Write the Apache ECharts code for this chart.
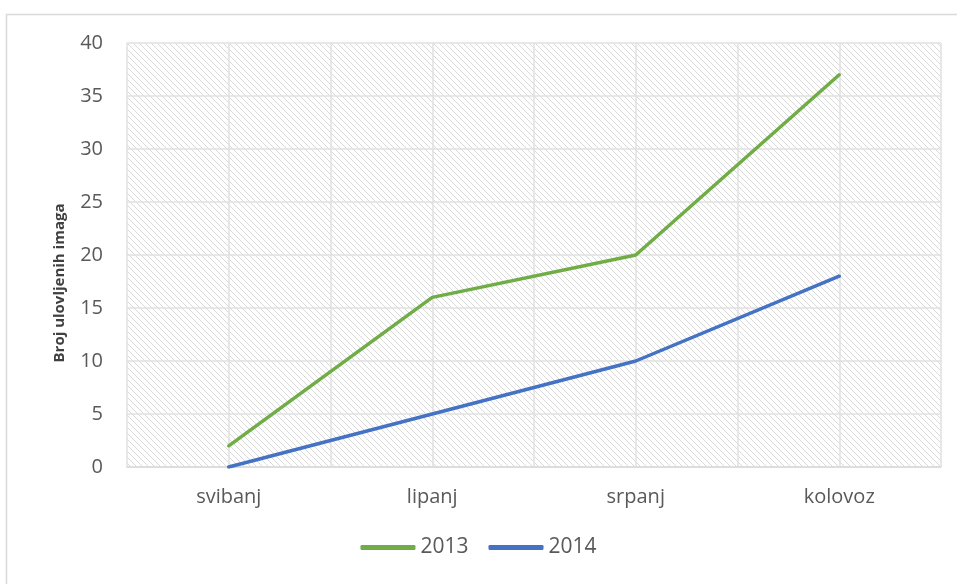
<!DOCTYPE html>
<html>
<head>
<meta charset="utf-8">
<script src="https://cdn.jsdelivr.net/npm/echarts@6/dist/echarts.min.js"></script>
<style>html,body{margin:0;padding:0;background:#fff}#c{width:957px;height:584px}</style>
</head>
<body>
<div id="c"></div>
<script>
var categories = ['svibanj', 'lipanj', 'srpanj', 'kolovoz'];
var series2013 = [2, 16, 20, 37];
var series2014 = [0, 5, 10, 18];
var yTicks = { min: 0, max: 40, interval: 5 };
var yTitle = 'Broj ulovljenih imaga';

var tile = document.createElement('canvas');
var p = 6;
tile.width = p; tile.height = p;
var ctx = tile.getContext('2d');
ctx.fillStyle = '#ffffff';
ctx.fillRect(0, 0, p, p);
ctx.strokeStyle = '#d9d9d9';
ctx.lineWidth = 1;
ctx.beginPath();
ctx.moveTo(-1, -1); ctx.lineTo(p + 1, p + 1);
ctx.moveTo(-1, p - 1); ctx.lineTo(1, p + 1);
ctx.moveTo(p - 1, -1); ctx.lineTo(p + 1, 1);
ctx.stroke();

var chart = echarts.init(document.getElementById('c'));
var font = '"Open Sans", "Noto Sans", sans-serif';
chart.setOption({
  animation: false,
  textStyle: { fontFamily: font },
  graphic: [{
    type: 'rect', left: 4, top: 12, shape: { width: 980, height: 600 },
    style: { fill: 'none', stroke: '#d9d9d9', lineWidth: 1.5 }, z: -10
  }, {
    type: 'text', x: 60, y: 283, rotation: Math.PI / 2,
    style: { text: yTitle, fontSize: 15, fontWeight: 'bold', fill: '#404040',
      fontFamily: font, align: 'center', verticalAlign: 'middle' }
  }],
  grid: {
    left: 127, right: 16, top: 43, bottom: 117,
    show: true, borderWidth: 0,
    backgroundColor: { image: tile, repeat: 'repeat' }
  },
  legend: {
    bottom: 21, left: 'center', itemWidth: 55, itemHeight: 5, itemGap: 20,
    icon: 'roundRect',
    textStyle: { fontSize: 21, color: '#595959', fontFamily: font },
    data: ['2013', '2014']
  },
  xAxis: [{
    type: 'category', data: categories, boundaryGap: true,
    axisLine: { show: true, lineStyle: { color: '#d9d9d9', width: 1.5 } },
    axisTick: { show: false },
    axisLabel: { fontSize: 20, color: '#595959', margin: 20, fontFamily: font },
    splitLine: { show: false }
  }, {
    type: 'value', min: 0, max: 8, interval: 1, position: 'bottom',
    axisLine: { show: false }, axisTick: { show: false }, axisLabel: { show: false },
    splitLine: { show: true, lineStyle: { color: '#e0e0e0', width: 1.5 } }
  }],
  yAxis: {
    type: 'value', min: yTicks.min, max: yTicks.max, interval: yTicks.interval,
    axisLine: { show: false }, axisTick: { show: false },
    axisLabel: { fontSize: 20, color: '#595959', margin: 24, fontFamily: font },
    splitLine: { show: true, lineStyle: { color: '#e0e0e0', width: 1.5 } }
  },
  series: [{
    name: '2013', type: 'line', data: series2013, symbol: 'none', xAxisIndex: 0,
    lineStyle: { color: '#70ad47', width: 3.5, cap: 'round' }, itemStyle: { color: '#70ad47' }
  }, {
    name: '2014', type: 'line', data: series2014, symbol: 'none', xAxisIndex: 0,
    lineStyle: { color: '#4472c4', width: 3.5, cap: 'round' }, itemStyle: { color: '#4472c4' }
  }]
});
</script>
</body>
</html>
